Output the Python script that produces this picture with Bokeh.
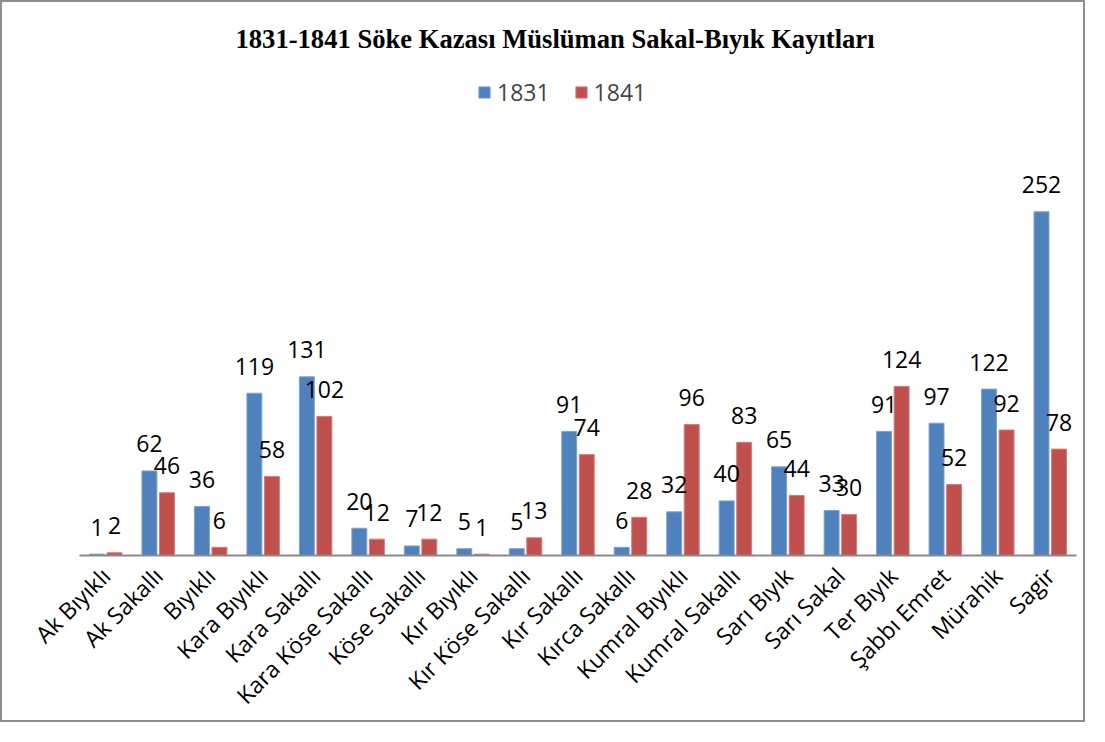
import math
from bokeh.plotting import figure
from bokeh.models import ColumnDataSource, LabelSet, Legend, LegendItem, FactorRange, Range1d
from bokeh.core.properties import value
from bokeh.transform import dodge
from bokeh.embed import file_html
from bokeh.resources import INLINE

categories = ["Ak Bıyıklı", "Ak Sakallı", "Bıyıklı", "Kara Bıyıklı", "Kara Sakallı",
              "Kara Köse Sakallı", "Köse Sakallı", "Kır Bıyıklı", "Kır Köse Sakallı",
              "Kır Sakallı", "Kırca Sakallı", "Kumral Bıyıklı", "Kumral Sakallı",
              "Sarı Bıyık", "Sarı Sakal", "Ter Bıyık", "Şabbı Emret", "Mürahik", "Sagir"]
v1831 = [1, 62, 36, 119, 131, 20, 7, 5, 5, 91, 6, 32, 40, 65, 33, 91, 97, 122, 252]
v1841 = [2, 46, 6, 58, 102, 12, 12, 1, 13, 74, 28, 96, 83, 44, 30, 124, 52, 92, 78]

src = ColumnDataSource(dict(
    cat=categories, a=v1831, b=v1841,
    la=[str(v) for v in v1831], lb=[str(v) for v in v1841],
))

W, H = 1085, 722
p = figure(x_range=FactorRange(*categories), y_range=Range1d(0, 360),
           width=W, height=H, output_backend="svg", toolbar_location=None,
           min_border_left=77, min_border_right=11, min_border_top=62,
           min_border_bottom=168)
p.styles = {"border": "2px solid #8e8e8e"}

p.title.text = "1831-1841 Söke Kazası Müslüman Sakal-Bıyık Kayıtları"
p.title.align = "left"
p.title.text_font = "Liberation Serif"
p.title.text_font_style = "bold"
p.title.text_font_size = "26.6px"
p.title.text_color = "black"
p.title.offset = 156
p.title.standoff = 22

r1 = p.vbar(x=dodge("cat", -0.167, range=p.x_range), top="a", width=0.285, source=src,
            fill_color="#4F81BD", line_color="#7ea2cf", line_width=1)
r2 = p.vbar(x=dodge("cat", 0.167, range=p.x_range), top="b", width=0.285, source=src,
            fill_color="#C0504D", line_color="#d27d7a", line_width=1)

for col, lab, off in (("a", "la", -0.167), ("b", "lb", 0.167)):
    p.add_layout(LabelSet(x=dodge("cat", off, range=p.x_range), y=col, text=lab, source=src,
                          text_align="center", text_baseline="middle", y_offset=27,
                          text_font=value("Open Sans"), text_font_size=value("23px"),
                          text_color="black"))

legend = Legend(items=[LegendItem(label="1831", renderers=[r1]),
                       LegendItem(label="1841", renderers=[r2])],
                orientation="horizontal", location=(398, 447),
                glyph_width=14, glyph_height=14, label_standoff=6, spacing=24,
                padding=4, margin=0, border_line_color=None, background_fill_alpha=0,
                label_text_font="Open Sans", label_text_font_size="23px", label_height=22)
p.add_layout(legend)

p.yaxis.visible = False
p.xgrid.grid_line_color = None
p.ygrid.grid_line_color = None
p.outline_line_color = None
p.xaxis.axis_line_color = "#8a8a8a"
p.xaxis.axis_line_width = 2
p.xaxis.major_tick_line_color = None
p.xaxis.minor_tick_line_color = None
p.xaxis.major_label_orientation = math.pi / 4
p.xaxis.major_label_text_font = "Open Sans"
p.xaxis.major_label_text_font_size = "23px"
p.xaxis.major_label_text_color = "black"
p.xaxis.major_label_standoff = 10
p.x_range.range_padding = 0
p.x_range.group_padding = 0

open("out.html", "w").write(file_html(p, INLINE))
